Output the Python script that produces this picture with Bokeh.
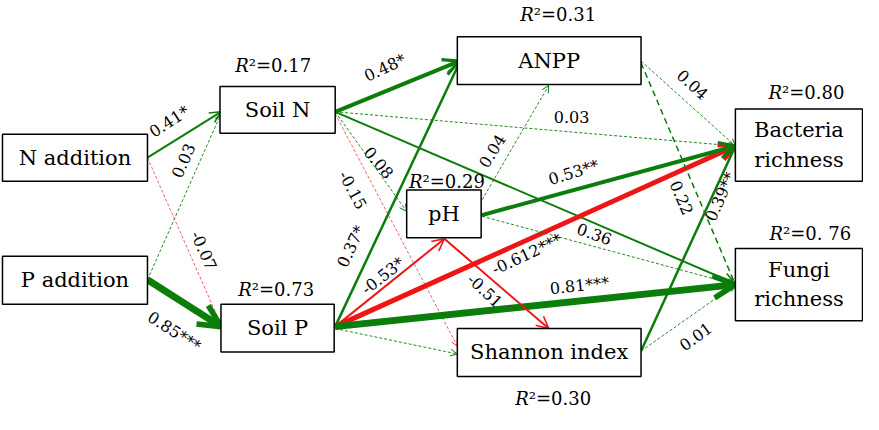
from bokeh.plotting import figure
from bokeh.models import Range1d, Arrow, OpenHead
from bokeh.embed import file_html
from bokeh.resources import INLINE
from bokeh.core.properties import value

# ---------------- data ----------------
node_names = ["N addition", "P addition", "Soil N", "Soil P", "ANPP", "pH",
              "Shannon index", "Bacteria\nrichness", "Fungi\nrichness"]
r2_nodes = ["ANPP", "Soil N", "Bacteria\nrichness", "pH", "Fungi\nrichness", "Soil P", "Shannon index"]
r2_values = ["0.31", "0.17", "0.80", "0.29", "0. 76", "0.73", "0.30"]

path_from = ["N addition", "P addition", "N addition", "P addition",
             "Soil N", "Soil N", "Soil N", "Soil N", "Soil N",
             "Soil P", "Soil P", "Soil P", "Soil P", "Soil P",
             "pH", "pH", "pH", "pH",
             "ANPP", "ANPP", "Shannon index", "Shannon index"]
path_to = ["Soil N", "Soil N", "Soil P", "Soil P",
           "ANPP", "Bacteria\nrichness", "Fungi\nrichness", "pH", "Shannon index",
           "ANPP", "pH", "Bacteria\nrichness", "Fungi\nrichness", "Shannon index",
           "Shannon index", "Bacteria\nrichness", "ANPP", "Fungi\nrichness",
           "Bacteria\nrichness", "Fungi\nrichness", "Bacteria\nrichness", "Fungi\nrichness"]
path_coef = ["0.41*", "0.03", "-0.07", "0.85***",
             "0.48*", "0.03", "0.36", "0.08", "-0.15",
             "0.37*", "-0.53*", "-0.612***", "0.81***", "",
             "-0.51", "0.53**", "0.04", "",
             "0.04", "0.22", "0.39**", "0.01"]

# ---------------- layout (positions / styles) ----------------
box = {  # left, right, top, bottom (screen-like coords, y down)
    "N addition": (10, 156, 143, 191),
    "P addition": (10, 156, 268, 317),
    "Soil N": (229, 345, 94, 142),
    "Soil P": (230, 344, 317, 366),
    "ANPP": (468, 653, 43, 92),
    "pH": (417, 492, 200, 249),
    "Shannon index": (468, 653, 342, 391),
    "Bacteria\nrichness": (748, 876, 117, 191),
    "Fungi\nrichness": (748, 876, 260, 334),
}
r2_pos = {  # left x, center y
    "ANPP": (532, 20), "Soil N": (245, 73), "Bacteria\nrichness": (782, 100),
    "pH": (420, 191), "Fungi\nrichness": (783, 245), "Soil P": (248, 302),
    "Shannon index": (527, 414),
}
G, R = "#0a7d0a", "#f01515"
RD = "#e0384a"
geom = [
    ((156, 167), (230, 120), 178, 130, 33, ("s", G, 2.0, 11)),
    ((156, 292), (230, 122), 192, 170, 66, ("d", G, 0.9, 7)),
    ((156, 167), (230, 338), 213, 262, -66, ("d", RD, 0.8, 6)),
    ((156, 292), (230, 340), 183, 345, -33, ("s", G, 7.0, 22)),
    ((345, 120), (470, 68), 395, 75, 25, ("s", G, 4.0, 16)),
    ((345, 120), (748, 155), 583, 125, 0, ("d", G, 0.9, 7)),
    ((345, 120), (748, 296), 606, 245, -20, ("s", G, 2.0, 12)),
    ((345, 120), (417, 222), 389, 172, -50, ("d", G, 0.9, 7)),
    ((345, 122), (468, 360), 363, 200, -62, ("d", RD, 0.8, 6)),
    ((345, 340), (470, 70), 361, 258, 65, ("s", G, 2.5, 13)),
    ((345, 340), (455, 250), 393, 288, 38, ("s", R, 2.0, 12)),
    ((345, 340), (748, 155), 538, 266, 25, ("s", R, 5.0, 16)),
    ((345, 340), (748, 297), 591, 298, 6, ("s", G, 7.0, 22)),
    ((345, 342), (468, 368), 0, 0, 0, ("d", G, 0.9, 7)),
    ((455, 250), (560, 342), 496, 303, -43, ("s", R, 2.0, 12)),
    ((492, 226), (748, 155), 585, 182, 17, ("s", G, 4.0, 16)),
    ((493, 210), (560, 93), 503, 160, 58, ("d", G, 0.9, 7)),
    ((493, 227), (748, 297), 0, 0, 0, ("d", G, 0.9, 7)),
    ((653, 68), (748, 155), 705, 92, -42, ("d", G, 0.9, 7)),
    ((653, 70), (748, 297), 694, 208, -67, ("D", G, 1.5, 8)),
    ((653, 365), (748, 155), 733, 207, 66, ("s", G, 2.5, 13)),
    ((653, 365), (748, 297), 708, 350, 36, ("d", G, 0.9, 7)),
]

SERIF = value("DejaVu Serif")

p = figure(width=863, height=414, output_backend="svg", toolbar_location=None,
           x_range=Range1d(8, 877), y_range=Range1d(430, 6), min_border=0)
p.axis.visible = False
p.grid.visible = False
p.outline_line_color = None
p.background_fill_color = "white"

for (s, e, lx, ly, ang, (kind, col, lw, hs)) in geom:
    dash = "solid" if kind == "s" else ("3 2" if kind == "d" else "6 4")
    p.add_layout(Arrow(end=OpenHead(size=hs, line_color=col, line_width=max(lw * 0.8, 1.0)),
                       x_start=s[0], y_start=s[1], x_end=e[0], y_end=e[1],
                       line_color=col, line_width=lw, line_dash=dash))

L = [box[n][0] for n in node_names]
Rr = [box[n][1] for n in node_names]
T = [box[n][2] for n in node_names]
B = [box[n][3] for n in node_names]
p.quad(left=L, right=Rr, top=T, bottom=B, fill_color="white",
       line_color="black", line_width=1.5, level="overlay")

# node labels
tx, ty, tt = [], [], []
for n in node_names:
    l, r, t, b = box[n]
    lines = n.split("\n")
    cx, cy = (l + r) / 2, (t + b) / 2
    for i, line in enumerate(lines):
        tx.append(cx)
        ty.append(cy + (i - (len(lines) - 1) / 2) * 30)
        tt.append(line)
p.text(x=tx, y=ty, text=tt, text_font=SERIF, text_font_size="21px",
       text_align="center", text_baseline="middle", text_color="black", level="overlay")

# R2 labels
rx = [r2_pos[n][0] for n in r2_nodes]
ry = [r2_pos[n][1] for n in r2_nodes]
p.text(x=[x + 13 for x in rx], y=ry, text=["R"] * len(rx), text_font=SERIF,
       text_font_style="italic", text_font_size="18px", text_align="right",
       text_baseline="middle", text_color="black", level="overlay")
p.text(x=[x + 13 for x in rx], y=ry, text=["\u00b2=" + v for v in r2_values],
       text_font=SERIF, text_font_size="18px", text_align="left",
       text_baseline="middle", text_color="black", level="overlay")

# coefficient labels
cx = [g[2] for g, c in zip(geom, path_coef) if c]
cy = [g[3] for g, c in zip(geom, path_coef) if c]
ca = [g[4] for g, c in zip(geom, path_coef) if c]
ct = [c for c in path_coef if c]
p.text(x=cx, y=cy, text=ct, angle=ca, angle_units="deg", text_font=SERIF,
       text_font_size="16px", text_align="center", text_baseline="middle",
       text_color="black", level="overlay")

open("out.html", "w").write(file_html(p, INLINE))
